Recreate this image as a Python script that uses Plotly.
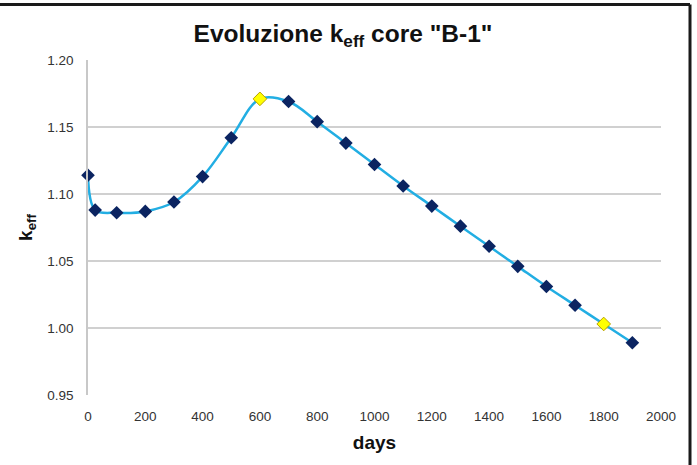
import plotly.graph_objects as go

days = [0, 25, 100, 200, 300, 400, 500, 600, 700, 800, 900, 1000, 1100, 1200, 1300, 1400, 1500, 1600, 1700, 1800, 1900]
keff = [1.114, 1.088, 1.086, 1.087, 1.094, 1.113, 1.142, 1.171, 1.169, 1.154, 1.138, 1.122, 1.106, 1.091, 1.076, 1.061, 1.046, 1.031, 1.017, 1.003, 0.989]
highlight_days = [600, 1800]
x_ticks = [0, 200, 400, 600, 800, 1000, 1200, 1400, 1600, 1800, 2000]
y_ticks = [0.95, 1.00, 1.05, 1.10, 1.15, 1.20]

W, H = 697, 465
ML, MR, MT, MB = 88, 36, 60, 70

def px_to_paper(px, py):
    return (px - ML) / (W - ML - MR), (H - MB - py) / (H - MT - MB)

hl_keff = [k for d, k in zip(days, keff) if d in highlight_days]
reg_days = [d for d in days if d not in highlight_days]
reg_keff = [k for d, k in zip(days, keff) if d not in highlight_days]

fig = go.Figure()
fig.add_trace(go.Scatter(x=days, y=keff, mode="lines",
                         line=dict(color="#22aee3", width=2.5, shape="spline", smoothing=1),
                         hoverinfo="skip", showlegend=False, cliponaxis=False))
fig.add_trace(go.Scatter(x=reg_days, y=reg_keff, mode="markers", cliponaxis=False,
                         marker=dict(symbol="diamond", size=10.5, color="#0b2461",
                                     line=dict(color="#0b2461", width=0)),
                         showlegend=False))
fig.add_trace(go.Scatter(x=highlight_days, y=hl_keff, mode="markers", cliponaxis=False,
                         marker=dict(symbol="diamond", size=10.5, color="#ffff00",
                                     line=dict(color="#b8a000", width=1)),
                         showlegend=False))

# outer frame (top and right dark border)
x0, y0 = px_to_paper(0, 4.5)
x1, y1 = px_to_paper(690, 4.5)
x2, y2 = px_to_paper(690, 470)
fig.add_shape(type="line", xref="paper", yref="paper", x0=x0, y0=y0, x1=x1, y1=y1,
              line=dict(color="#1a1a1a", width=3))
fig.add_shape(type="line", xref="paper", yref="paper", x0=x1, y0=y1, x1=x2, y1=y2,
              line=dict(color="#1a1a1a", width=3))

fig.update_layout(
    width=W, height=H,
    margin=dict(l=ML, r=MR, t=MT, b=MB),
    paper_bgcolor="white", plot_bgcolor="white",
    font=dict(family="Liberation Sans, Arial, sans-serif", color="#333333"),
    title=dict(text='<b>Evoluzione k<sub>eff</sub> core "B-1"</b>',
               x=343 / W, xanchor="center", y=1 - 33 / H, yanchor="middle",
               font=dict(size=24.5, color="#111111", family="Liberation Sans, Arial")),
    xaxis=dict(range=[0, 2000], tickvals=x_ticks, ticktext=[str(t) for t in x_ticks],
               showgrid=False, zeroline=False, showline=False,
               ticks="outside", ticklen=9, tickcolor="rgba(0,0,0,0)",
               tickfont=dict(size=13.5, color="#333333"),
               title=dict(text="<b>days</b>", font=dict(size=19, color="#111111"), standoff=12)),
    yaxis=dict(range=[0.95, 1.20], tickvals=y_ticks, ticktext=["%.2f" % t for t in y_ticks],
               showgrid=True, gridcolor="#d0d0d0", gridwidth=1.5, zeroline=False,
               showline=True, linecolor="#c8c8c8", linewidth=1.5,
               ticks="outside", ticklen=10, tickcolor="rgba(0,0,0,0)",
               tickfont=dict(size=13.5, color="#333333"),
               title=dict(text="<b>k<sub>eff</sub></b>", font=dict(size=19, color="#111111"), standoff=10)),
)

fig.write_html("out.html")
